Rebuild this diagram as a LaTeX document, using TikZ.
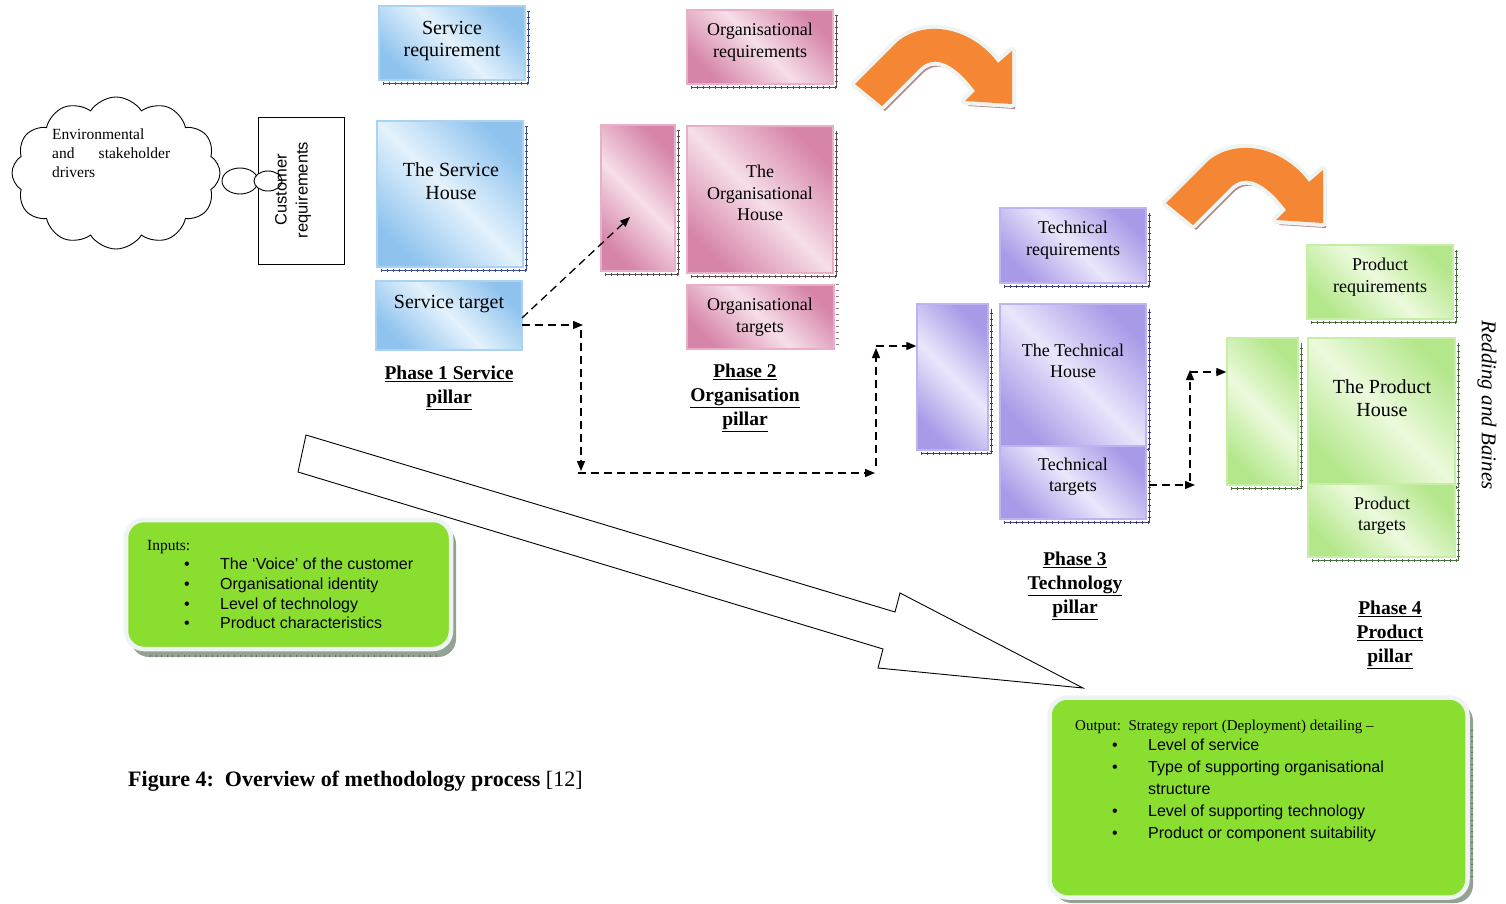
\documentclass[tikz,border=0pt]{standalone}
\usepackage{fontspec}
\setmainfont{Liberation Serif}
\newfontfamily\arialf{Liberation Sans}
\usetikzlibrary{shapes.symbols,shapes.geometric,arrows.meta}
\definecolor{bluedark}{HTML}{8FC3EE}
\definecolor{bluelight}{HTML}{E4F2FC}
\definecolor{blueedge}{HTML}{AAD3F2}
\definecolor{blueshadow}{HTML}{3A4C8A}
\definecolor{pinkdark}{HTML}{D684A8}
\definecolor{pinklight}{HTML}{F6DEEA}
\definecolor{pinkedge}{HTML}{E8B0C8}
\definecolor{pinkshadow}{HTML}{5E4A4A}
\definecolor{purpdark}{HTML}{A89AE7}
\definecolor{purplight}{HTML}{EAE6FB}
\definecolor{purpedge}{HTML}{BDB3F0}
\definecolor{purpshadow}{HTML}{3E3E7E}
\definecolor{grndark}{HTML}{B4E78B}
\definecolor{grnlight}{HTML}{ECFADD}
\definecolor{grnedge}{HTML}{C6EEA6}
\definecolor{grnshadow}{HTML}{4C6E3C}
\definecolor{limegreen}{HTML}{8ADE2F}
\definecolor{orangefill}{HTML}{F58634}
\definecolor{arrowshadow}{HTML}{B98686}
\definecolor{roundshadow}{HTML}{93A293}
\definecolor{paleborder}{HTML}{EEF4F2}

\newcommand\bxsh[2]{%
  \draw[#2, line width=0.8pt] ([xshift=5pt,yshift=-2.5pt]#1.south west) -| ([xshift=2.5pt,yshift=-6pt]#1.north east);
  \draw[#2, line width=3pt, dash pattern=on 0.6pt off 5.4pt] ([xshift=5pt,yshift=-2.5pt]#1.south west) -| ([xshift=2.5pt,yshift=-6pt]#1.north east);
}
\newcommand\orangearrowpath{(855,84) -- (897,42) .. controls (926,18) and (972,28) .. (998,63) -- (1012,51) -- (1012,104) -- (965,101) -- (975,91) .. controls (955,64) and (935,54) .. (920,68) -- (882,106) -- cycle}
\newcommand\orangearrow{%
  \fill[arrowshadow, shift={(3,5)}] \orangearrowpath;
  \draw[paleborder, line width=8pt, line join=round] \orangearrowpath;
  \fill[orangefill] \orangearrowpath;
}

\tikzset{
  pbox/.style={rectangle, line width=1.4pt, inner sep=0pt},
  bluebox/.style={pbox, draw=blueedge, top color=bluedark, bottom color=bluedark, middle color=bluelight, shading angle=-45},
  pinkbox/.style={pbox, draw=pinkedge, top color=pinkdark, bottom color=pinkdark, middle color=pinklight, shading angle=-45},
  purpbox/.style={pbox, draw=purpedge, top color=purpdark, bottom color=purpdark, middle color=purplight, shading angle=-45},
  grnbox/.style={pbox, draw=grnedge, top color=grndark, bottom color=grndark, middle color=grnlight, shading angle=-45},
  btxt/.style={align=center, inner sep=0pt, font=\fontsize{20}{22.5}\selectfont},
  stxt/.style={align=center, inner sep=0pt, font=\fontsize{18}{21.5}\selectfont},
  phase/.style={align=center, inner sep=0pt, font=\bfseries\fontsize{19.5}{24}\selectfont},
  flow/.style={dash pattern=on 8pt off 5pt, line width=1.3pt, -{Triangle[length=10pt,width=8pt]}},
  roundbox/.style={rectangle, rounded corners=18pt, draw=paleborder, line width=4.5pt, fill=limegreen, inner sep=0pt},
}

\begin{document}
\begin{tikzpicture}[x=1pt,y=-1pt]
\useasboundingbox (0,0) rectangle (1506,904);
\fill[white] (0,0) rectangle (1506,904);

% ---------- cloud and customer requirements
\node[cloud, draw, line width=0.9pt, cloud puffs=12, cloud puff arc=115, aspect=1.4, minimum width=208pt, minimum height=152pt, inner sep=0pt] (cloud) at (116,173) {};
\node[anchor=north west, inner sep=0pt, align=left, font=\fontsize{15.5}{19}\selectfont] (cloudtxt) at (52,129) {Environmental\\\hbox to 118pt{and\hfill stakeholder}\\drivers};
\node[draw, line width=1pt, minimum width=86pt, minimum height=146pt, inner sep=0pt] (custbox) at (301,191) {};
\node[ellipse, draw, fill=white, line width=0.9pt, minimum width=36pt, minimum height=26pt, inner sep=0pt] (bub1) at (240,181) {};
\node[ellipse, draw, fill=white, line width=0.9pt, minimum width=28pt, minimum height=20pt, inner sep=0pt] (bub2) at (268,181) {};
\node[rotate=90, align=center, inner sep=0pt, font=\arialf\fontsize{16.5}{21}\selectfont] (custtxt) at (293,190) {Customer\\requirements};

% ---------- orange arrows
\orangearrow
\begin{scope}[shift={(311,119)}]
\orangearrow
\end{scope}

% ---------- Phase 1 (blue)
\node[bluebox, minimum width=146pt, minimum height=74pt] (sreq) at (452,43) {};
\bxsh{sreq}{blueshadow}
\node[btxt] (sreqT) at (452,41) {Service\\requirement};
\node[bluebox, minimum width=146pt, minimum height=146pt] (shouse) at (450,194) {};
\bxsh{shouse}{blueshadow}
\node[btxt] (shouseT) at (451,181) {The Service\\House};
\node[bluebox, minimum width=146pt, minimum height=69pt] (stgt) at (449,315.5) {};
\node[btxt] (stgtT) at (449,304) {Service target};
\node[phase] (ph1) at (449,388) {\underline{Phase 1 Service}\\\underline{pillar}};

% ---------- Phase 2 (pink)
\node[pinkbox, minimum width=146pt, minimum height=74pt] (oreq) at (760,47) {};
\bxsh{oreq}{pinkshadow}
\node[stxt] (oreqT) at (760,42) {Organisational\\requirements};
\node[pinkbox, minimum width=74pt, minimum height=146pt] (onar) at (638,198) {};
\bxsh{onar}{pinkshadow}
\node[pinkbox, minimum width=146pt, minimum height=147pt] (ohouse) at (760,199.5) {};
\bxsh{ohouse}{pinkshadow}
\node[stxt] (ohouseT) at (760,193) {The\\Organisational\\House};
\node[pinkbox, minimum width=147pt, minimum height=64pt] (otgt) at (760.5,317) {};
\draw[pinkshadow!70, line width=3pt, dash pattern=on 0.6pt off 5.4pt] ([xshift=2.5pt]otgt.north east) -- ([xshift=2.5pt]otgt.south east);
\node[stxt] (otgtT) at (760,317) {Organisational\\targets};
\node[phase] (ph2) at (745,398) {\underline{Phase 2}\\\underline{Organisation}\\\underline{pillar}};

% ---------- Phase 3 (purple)
\node[purpbox, minimum width=146pt, minimum height=75pt] (treq) at (1073,245.5) {};
\bxsh{treq}{purpshadow}
\node[stxt] (treqT) at (1073,240) {Technical\\requirements};
\node[purpbox, minimum width=71pt, minimum height=146pt] (tnar) at (952.5,377) {};
\bxsh{tnar}{purpshadow}
\node[purpbox, minimum width=146pt, minimum height=142pt] (thouse) at (1073,375) {};
\bxsh{thouse}{purpshadow}
\node[stxt] (thouseT) at (1073,361) {The Technical\\House};
\node[purpbox, minimum width=146pt, minimum height=73pt] (ttgt) at (1073,482.5) {};
\bxsh{ttgt}{purpshadow}
\node[stxt] (ttgtT) at (1073,476.5) {Technical\\targets};
\node[phase] (ph3) at (1075,586) {\underline{Phase 3}\\\underline{Technology}\\\underline{pillar}};

% ---------- Phase 4 (green)
\node[grnbox, minimum width=146pt, minimum height=74pt] (preq) at (1380,282) {};
\bxsh{preq}{grnshadow}
\node[stxt] (preqT) at (1380,277) {Product\\requirements};
\node[grnbox, minimum width=71pt, minimum height=147pt] (pnar) at (1262.5,411.5) {};
\bxsh{pnar}{grnshadow}
\node[grnbox, minimum width=147pt, minimum height=146pt] (phouse) at (1381.5,411) {};
\bxsh{phouse}{grnshadow}
\node[btxt] (phouseT) at (1382,398) {The Product\\House};
\node[grnbox, minimum width=147pt, minimum height=73pt] (ptgt) at (1381.5,520.5) {};
\bxsh{ptgt}{grnshadow}
\node[stxt] (ptgtT) at (1382,515.5) {Product\\targets};
\node[phase] (ph4) at (1390,635) {\underline{Phase 4}\\\underline{Product}\\\underline{pillar}};

\node[rotate=-90, inner sep=0pt, font=\itshape\fontsize{21}{24}\selectfont] (credit) at (1487,405) {Redding and Baines};

% ---------- dashed flow connectors
\coordinate (d1s) at (522,318);
\coordinate (d1e) at (630,217);
\coordinate (d2s) at (522,325);
\coordinate (d2e) at (583,325);
\coordinate (d3s) at (581,330);
\coordinate (d3e) at (581,471);
\coordinate (d4s) at (578,473);
\coordinate (d4e) at (875,473);
\coordinate (d5s) at (876,466);
\coordinate (d5e) at (876,348);
\coordinate (d6s) at (876,346);
\coordinate (d7s) at (1149,485);
\coordinate (d7e) at (1195,485);
\coordinate (d8s) at (1190,481);
\coordinate (d8e) at (1190,370);
\coordinate (d9s) at (1190,372);
\draw[flow] (d1s) -- (d1e);
\draw[flow] (d2s) -- (d2e);
\draw[flow] (d3s) -- (d3e);
\draw[flow] (d4s) -- (d4e);
\draw[flow] (d5s) -- (d5e);
\draw[flow] (d6s) -- (d6s -| tnar.west);
\draw[flow] (d7s) -- (d7e);
\draw[flow] (d8s) -- (d8e);
\draw[flow] (d9s) -- (d9s -| pnar.west);

% ---------- big outline arrow
\draw[line width=0.9pt, fill=white, line join=miter] (306,435) -- (895,612) -- (900,593) -- (1083,688) -- (878,668) -- (883,649) -- (298,472) -- cycle;

% ---------- inputs box
\fill[roundshadow, rounded corners=18pt] (131,526) rectangle (456,657);
\draw[roundshadow!70!black, line width=2.5pt, dash pattern=on 0.6pt off 5pt] (150,656) -- (440,656);
\node[roundbox, minimum width=325pt, minimum height=129pt] (inbox) at (288.5,584.5) {};
\node[anchor=base west, inner sep=0pt, font=\fontsize{15.5}{19}\selectfont] (intitle) at (147,550) {Inputs:};
\node[anchor=north west, inner sep=0pt, align=left, font=\arialf\fontsize{16}{19.7}\selectfont] (inlist) at (184,558) {\makebox[36pt][l]{•}The ‘Voice’ of the customer\\\makebox[36pt][l]{•}Organisational identity\\\makebox[36pt][l]{•}Level of technology\\\makebox[36pt][l]{•}Product characteristics};

% ---------- output box
\fill[roundshadow, rounded corners=18pt] (1054,703) rectangle (1473,903);
\draw[roundshadow!70!black, line width=2.5pt, dash pattern=on 0.6pt off 5pt] (1472,730) -- (1472,880);
\node[roundbox, minimum width=418pt, minimum height=200pt] (outbox) at (1258.5,797.5) {};
\node[anchor=base west, inner sep=0pt, font=\fontsize{15}{18}\selectfont] (outtitle) at (1075,730) {Output:\ \ Strategy report (Deployment) detailing –};
\node[anchor=north west, inner sep=0pt, align=left, font=\arialf\fontsize{16}{22}\selectfont] (outlist) at (1112,739) {\makebox[36pt][l]{•}Level of service\\\makebox[36pt][l]{•}Type of supporting organisational\\\hspace*{36pt}structure\\\makebox[36pt][l]{•}Level of supporting technology\\\makebox[36pt][l]{•}Product or component suitability};

% ---------- caption
\node[anchor=base west, inner sep=0pt, font=\fontsize{22}{24}\selectfont] (caption) at (128,786) {\textbf{Figure 4:\ \ Overview of methodology process} [12]};
\end{tikzpicture}
\end{document}
